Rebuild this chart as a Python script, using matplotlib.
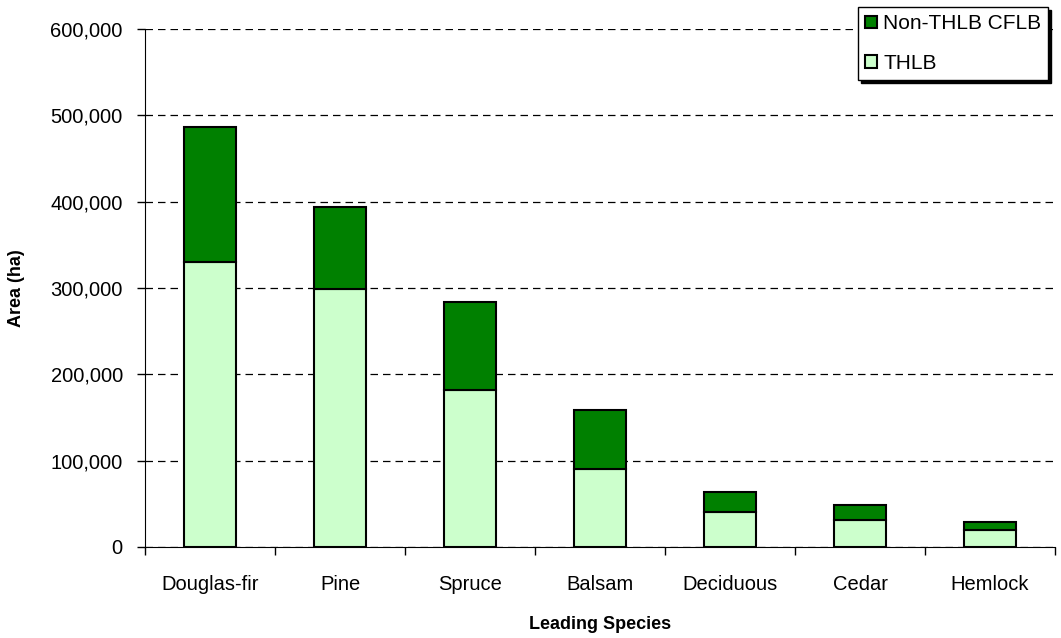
import matplotlib
matplotlib.use("Agg")
import matplotlib.pyplot as plt
from matplotlib.ticker import FuncFormatter, FixedLocator
import numpy as np

categories = ["Douglas-fir", "Pine", "Spruce", "Balsam", "Deciduous", "Cedar", "Hemlock"]
thlb = [330000, 299000, 182000, 90000, 40000, 31000, 20000]
non_thlb = [157000, 95000, 102000, 69000, 24000, 18000, 9000]

plt.rcParams['font.family'] = ['Liberation Sans', 'DejaVu Sans']

fig = plt.figure(figsize=(10.61, 6.38), dpi=100)
ax = fig.add_axes([145/1061, (638-547)/638, (1055-145)/1061, (547-29)/638])

x = np.arange(len(categories))
w = 0.4
ax.bar(x, thlb, width=w, color="#CCFFCC", edgecolor="black", linewidth=1.5, label="THLB", zorder=3)
ax.bar(x, non_thlb, width=w, bottom=thlb, color="#008000", edgecolor="black", linewidth=1.5,
       label="Non-THLB CFLB", zorder=3)

ax.set_xlim(-0.5, len(categories) - 0.5)
ax.set_ylim(0, 600000)
ax.set_yticks(np.arange(0, 600001, 100000))
ax.yaxis.set_major_formatter(FuncFormatter(lambda v, p: f"{int(v):,}"))
ax.set_xticks(x)
ax.set_xticklabels(categories)
ax.xaxis.set_minor_locator(FixedLocator(np.arange(-0.5, len(categories), 1.0)))
ax.tick_params(axis='x', which='major', length=0, pad=20, labelsize=14.5)
ax.tick_params(axis='x', which='minor', length=6, direction='out', width=1)
ax.tick_params(axis='y', length=6, direction='out', width=1, labelsize=14.5, pad=10)

ax.yaxis.grid(True, linestyle=(0, (6, 4)), color="black", linewidth=0.9, zorder=0)
ax.set_axisbelow(True)
ax.spines['top'].set_visible(False)
ax.spines['right'].set_visible(False)

ax.set_ylabel("Area (ha)", fontsize=13, fontweight='bold', labelpad=18)
ax.set_xlabel("Leading Species", fontsize=13, fontweight='bold', labelpad=16)

handles, labels = ax.get_legend_handles_labels()
leg = fig.legend(handles[::-1], labels[::-1], loc='upper left',
                 bbox_to_anchor=(858/1061, 1 - 7/638), bbox_transform=fig.transFigure,
                 borderaxespad=0, fontsize=15, frameon=True, fancybox=False,
                 shadow={'color': 'black', 'alpha': 1}, handlelength=0.55, handleheight=0.55,
                 handletextpad=0.3, labelspacing=1.0, borderpad=0.35)
leg.get_frame().set_edgecolor("black")
leg.get_frame().set_linewidth(1)

fig.savefig("out.png", dpi=100)
